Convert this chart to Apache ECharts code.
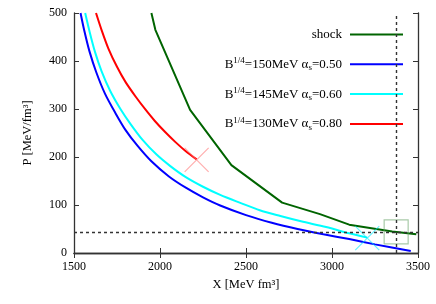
<!DOCTYPE html>
<html><head><meta charset="utf-8">
<script src="https://cdn.jsdelivr.net/npm/echarts@6/dist/echarts.min.js"></script>
<style>html,body{margin:0;padding:0;background:#fff}#c{width:436px;height:304px}</style>
</head><body><div id="c"></div>
<script>
// ---- data ----
const xTicks = [1500, 2000, 2500, 3000, 3500];
const yTicks = [0, 100, 200, 300, 400, 500];
const seriesNames = ['shock', 'B1/4=150MeV αs=0.50', 'B1/4=145MeV αs=0.60', 'B1/4=130MeV αs=0.80'];
const legendLabels = ['shock', 'B{sup|1/4}=150MeV α{sub|s}=0.50', 'B{sup|1/4}=145MeV α{sub|s}=0.60', 'B{sup|1/4}=130MeV α{sub|s}=0.80'];
const shockX = [1950, 1973, 2175, 2415, 2710, 2930, 3100, 3350, 3490];
const shockP = [500, 465, 298, 183, 105, 81, 59, 45, 39];
const b150X = [1538, 1560, 1590, 1630, 1680, 1740, 1800, 1870, 1950, 2050, 2150, 2250, 2350, 2500, 2650, 2800, 2950, 3100, 3250, 3458];
const b150P = [500, 463, 420, 376, 332, 292, 256, 223, 191, 160, 136, 116, 99, 79, 63, 50, 39, 29, 18, 4];
const b145X = [1565, 1590, 1622, 1660, 1710, 1770, 1830, 1900, 1980, 2060, 2150, 2250, 2350, 2470, 2580, 2700, 2820, 2966, 3100, 3205];
const b145P = [500, 462, 419, 379, 338, 300, 268, 235, 205, 181, 158, 138, 121, 104, 89, 77, 66, 54, 41, 32];
const b130X = [1628, 1660, 1700, 1750, 1800, 1860, 1915, 1970, 2030, 2090, 2150, 2213];
const b130P = [500, 465, 426, 388, 356, 325, 299, 275, 252, 231, 212, 195];
const crossX = [2213, 3205];
const crossP = [194, 31];
const boxX = [3373];
const boxP = [44];
const refLineX = [3373];
const refLineP = [44];

// ---- styles ----
const colors = ['#006400', '#0000ff', '#00ffff', '#ff0000'];
const crossColors = ['rgba(255,120,120,0.75)', 'rgba(0,235,255,0.75)'];
const FONT = 'Liberation Serif';
const zip = (a, b) => a.map((v, i) => [v, b[i]]);

const chart = echarts.init(document.getElementById('c'), null, {renderer: 'canvas'});
const axisLine = {show: true, lineStyle: {color: '#333', width: 1.3}};
const tick = {show: true, inside: true, length: 5, lineStyle: {color: '#333', width: 1}};
const xBase = {type: 'value', min: xTicks[0], max: xTicks[xTicks.length - 1], interval: xTicks[1] - xTicks[0], splitLine: {show: false}, axisLine, axisTick: tick};
const yBase = {type: 'value', min: yTicks[0], max: yTicks[yTicks.length - 1], interval: yTicks[1] - yTicks[0], splitLine: {show: false}, axisLine, axisTick: tick};
const plain = v => String(v);

const lineData = [zip(shockX, shockP), zip(b150X, b150P), zip(b145X, b145P), zip(b130X, b130P)];
const series = lineData.map((d, i) => ({
  name: seriesNames[i], type: 'line', data: d, symbol: 'none',
  smooth: i === 0 ? false : 0.3,
  lineStyle: {color: colors[i], width: 2}, itemStyle: {color: colors[i]}, silent: true, z: 3,
  animation: false
}));
series[0].markLine = {
  silent: true, symbol: ['none', 'none'], label: {show: false}, animation: false,
  lineStyle: {type: [3, 3], color: '#333', width: 1.4},
  data: [{xAxis: refLineX[0]}, {yAxis: refLineP[0]}]
};
crossX.forEach((x, i) => series.push({
  type: 'scatter', data: [[x, crossP[i]]], symbol: 'path://M0,0L10,10M10,0L0,10', symbolSize: 24,
  itemStyle: {color: 'rgba(0,0,0,0)', borderColor: crossColors[i], borderWidth: 1.2}, silent: true, z: 4, animation: false
}));
series.push({
  type: 'scatter', data: zip(boxX, boxP), symbol: 'rect', symbolSize: 24,
  itemStyle: {color: 'rgba(0,0,0,0)', borderColor: 'rgba(100,160,100,0.7)', borderWidth: 1.2}, silent: true, z: 4, animation: false
});

chart.setOption({
  animation: false,
  grid: {left: 74, right: 18, top: 13, bottom: 51},
  xAxis: [
    Object.assign({}, xBase, {position: 'bottom', name: 'X [MeV fm³]', nameLocation: 'middle', nameGap: 25,
      nameTextStyle: {fontFamily: FONT, fontSize: 12.5, color: '#000'},
      axisLabel: {fontFamily: FONT, fontSize: 12, color: '#000', margin: 8, formatter: plain}}),
    Object.assign({}, xBase, {position: 'top', axisLabel: {show: false}})
  ],
  yAxis: [
    Object.assign({}, yBase, {position: 'left', name: 'P [MeV/fm³]', nameLocation: 'middle', nameGap: 40, nameRotate: 90,
      nameTextStyle: {fontFamily: FONT, fontSize: 12.5, color: '#000'},
      axisLabel: {fontFamily: FONT, fontSize: 12, color: '#000', margin: 7, formatter: plain}}),
    Object.assign({}, yBase, {position: 'right', axisLabel: {show: false}})
  ],
  legend: {
    data: seriesNames, orient: 'vertical', align: 'right', right: 33, top: 26.5, padding: 0,
    icon: 'rect', itemWidth: 53, itemHeight: 2, itemGap: 13.8, selectedMode: false,
    formatter: name => legendLabels[seriesNames.indexOf(name)] + '{g|}',
    textStyle: {fontFamily: FONT, fontSize: 13, color: '#000', lineHeight: 16,
      rich: {
        sup: {fontFamily: FONT, fontSize: 9, color: '#000', verticalAlign: 'top', lineHeight: 10},
        sub: {fontFamily: FONT, fontSize: 9, color: '#000', verticalAlign: 'bottom', lineHeight: 10},
        g: {width: 3}
      }}
  },
  series
});
</script></body></html>
